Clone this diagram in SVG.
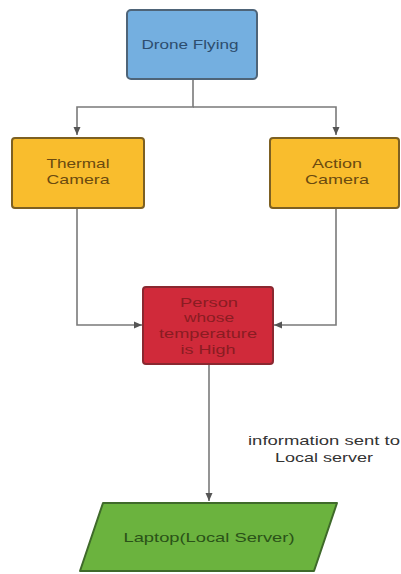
<svg xmlns="http://www.w3.org/2000/svg" width="401" height="574" viewBox="0 0 401 574">
<style>
text{font-family:"Liberation Sans",Arial,sans-serif;font-size:13px;text-anchor:middle;dominant-baseline:central}
.c{fill:none;stroke:#7a7a7a;stroke-width:1.6}
</style>
<defs>
<marker id="a" markerWidth="10" markerHeight="10" refX="8" refY="5" orient="auto" markerUnits="userSpaceOnUse">
<path d="M0,1.5 L8,5 L0,8.5 Z" fill="#555"/>
</marker>
</defs>
<rect width="401" height="574" fill="#fff"/>
<g id="connectors">
<path class="c" d="M193,79 V107 H77 V135" marker-end="url(#a)"/>
<path class="c" d="M193,107 H336 V135" marker-end="url(#a)"/>
<path class="c" d="M77,208 V325 H142" marker-end="url(#a)"/>
<path class="c" d="M336,208 V325 H274" marker-end="url(#a)"/>
<path class="c" d="M209,364 V501" marker-end="url(#a)"/>
<text x="324" y="440" fill="#333" textLength="152" lengthAdjust="spacingAndGlyphs">information sent to</text>
<text x="324" y="457" fill="#333" textLength="98" lengthAdjust="spacingAndGlyphs">Local server</text>
</g>
<g id="drone">
<rect x="127" y="10" width="130" height="69" rx="4" fill="#74afe0" stroke="#4e6478" stroke-width="2"/>
<text x="190" y="44" fill="#2d4d6e" textLength="97" lengthAdjust="spacingAndGlyphs">Drone Flying</text>
</g>
<g id="thermal">
<rect x="12" y="138" width="132" height="70" rx="3" fill="#f9bd2d" stroke="#7d6022" stroke-width="2"/>
<text x="78" y="163" fill="#6a4a10" textLength="63" lengthAdjust="spacingAndGlyphs">Thermal</text>
<text x="78" y="179" fill="#6a4a10" textLength="63" lengthAdjust="spacingAndGlyphs">Camera</text>
</g>
<g id="action">
<rect x="270" y="138" width="129" height="70" rx="3" fill="#f9bd2d" stroke="#7d6022" stroke-width="2"/>
<text x="337" y="163" fill="#6a4a10" textLength="50" lengthAdjust="spacingAndGlyphs">Action</text>
<text x="337" y="179" fill="#6a4a10" textLength="64" lengthAdjust="spacingAndGlyphs">Camera</text>
</g>
<g id="person">
<rect x="143" y="287" width="130" height="77" rx="3" fill="#d02a3a" stroke="#8a2830" stroke-width="2"/>
<text x="209" y="302" fill="#8a1c22" textLength="58" lengthAdjust="spacingAndGlyphs">Person</text>
<text x="209" y="317" fill="#8a1c22" textLength="50" lengthAdjust="spacingAndGlyphs">whose</text>
<text x="208" y="333" fill="#8a1c22" textLength="98" lengthAdjust="spacingAndGlyphs">temperature</text>
<text x="208" y="349" fill="#8a1c22" textLength="55" lengthAdjust="spacingAndGlyphs">is High</text>
</g>
<g id="laptop">
<path d="M103,503 H337 L314,571 H80 Z" fill="#6bb33e" stroke="#3f6a2a" stroke-width="2" stroke-linejoin="round"/>
<text x="209" y="537" fill="#2a5218" textLength="171" lengthAdjust="spacingAndGlyphs">Laptop(Local Server)</text>
</g>
</svg>
